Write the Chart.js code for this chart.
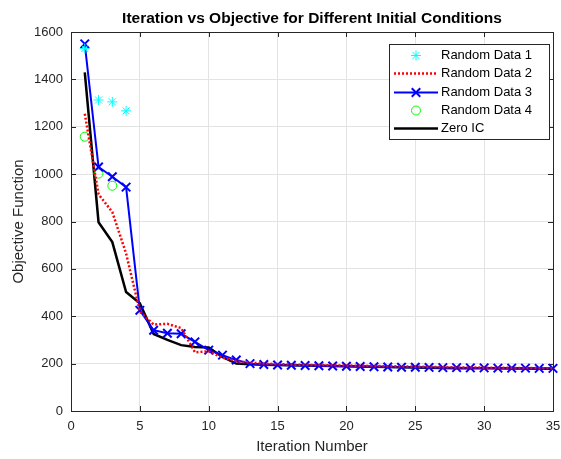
<!DOCTYPE html>
<html>
<head>
<meta charset="utf-8">
<script src="https://cdn.jsdelivr.net/npm/chart.js@4.4.0/dist/chart.umd.min.js"></script>
<style>
  html, body { margin: 0; padding: 0; background: #fff; }
  canvas { display: block; }
</style>
</head>
<body>
<canvas id="chart" width="561" height="459"></canvas>
<script>
const iterations = Array.from({ length: 35 }, (_, i) => i + 1);

const random1 = [1530, 1313, 1305, 1267];
const random2 = [1255, 915, 840, 665, 420, 365, 368, 350, 248, 252, 225, 210,
  204, 200, 198, 196, 195, 194, 193, 192, 191, 190, 189, 188, 187, 186, 185,
  184, 184, 183, 183, 182, 182, 181, 181];
const random3 = [1550, 1030, 989, 945, 425, 341, 328, 326, 292, 257, 236, 215,
  200, 196, 194, 193, 192, 191, 190, 189, 188, 187, 186, 185, 185, 184, 183,
  183, 182, 182, 181, 181, 181, 180, 180];
const random4 = [1158, 1002, 951];
const zeroIC = [1430, 797, 713, 502, 455, 325, 300, 278, 270, 268, 228, 200,
  197, 195, 194, 193, 192, 191, 190, 189, 188, 187, 186, 185, 184, 183, 182,
  181, 181, 180, 180, 179, 179, 178, 178];

const xTicks = [0, 5, 10, 15, 20, 25, 30, 35];
const yTicks = [0, 200, 400, 600, 800, 1000, 1200, 1400, 1600];

const FONT = '"Liberation Sans", Arial, Helvetica, sans-serif';
const AXIS_COLOR = '#262626';

function pts(values) {
  return values.map((v, i) => ({ x: iterations[i], y: v }));
}

function drawMarker(ctx, style, x, y, r) {
  if (style === 'circle') {
    ctx.moveTo(x + r, y);
    ctx.arc(x, y, r, 0, Math.PI * 2);
  } else if (style === 'crossRot') {
    const d = r * Math.SQRT1_2;
    ctx.moveTo(x - d, y - d); ctx.lineTo(x + d, y + d);
    ctx.moveTo(x - d, y + d); ctx.lineTo(x + d, y - d);
  } else if (style === 'star') {
    const d = r * Math.SQRT1_2;
    ctx.moveTo(x - r, y); ctx.lineTo(x + r, y);
    ctx.moveTo(x, y - r); ctx.lineTo(x, y + r);
    ctx.moveTo(x - d, y - d); ctx.lineTo(x + d, y + d);
    ctx.moveTo(x - d, y + d); ctx.lineTo(x + d, y - d);
  }
}

// box, inner ticks, title, axis labels, legend (MATLAB look)
const matlabFrame = {
  id: 'matlabFrame',
  beforeDatasetsDraw(chart) {
    const { ctx, chartArea: a, scales } = chart;
    ctx.save();
    ctx.strokeStyle = AXIS_COLOR;
    ctx.lineWidth = 1;
    ctx.beginPath();
    xTicks.forEach(t => {
      const x = Math.round(scales.x.getPixelForValue(t)) + 0.5;
      ctx.moveTo(x, a.bottom); ctx.lineTo(x, a.bottom - 5);
      ctx.moveTo(x, a.top); ctx.lineTo(x, a.top + 5);
    });
    yTicks.forEach(t => {
      const y = Math.round(scales.y.getPixelForValue(t)) + 0.5;
      ctx.moveTo(a.left, y); ctx.lineTo(a.left + 5, y);
      ctx.moveTo(a.right, y); ctx.lineTo(a.right - 5, y);
    });
    ctx.stroke();
    ctx.strokeRect(Math.round(a.left) + 0.5, Math.round(a.top) + 0.5,
      Math.round(a.right - a.left), Math.round(a.bottom - a.top));
    ctx.restore();
  },
  afterDatasetsDraw(chart) {
    const { ctx, chartArea: a } = chart;
    const cx = (a.left + a.right) / 2;
    ctx.save();
    ctx.fillStyle = '#000';
    ctx.textAlign = 'center';
    ctx.textBaseline = 'middle';
    ctx.font = 'bold 15.5px ' + FONT;
    ctx.fillText('Iteration vs Objective for Different Initial Conditions', cx, 19);

    ctx.fillStyle = AXIS_COLOR;
    ctx.font = '15px ' + FONT;
    ctx.fillText('Iteration Number', cx, 447);
    ctx.translate(19, (a.top + a.bottom) / 2);
    ctx.rotate(-Math.PI / 2);
    ctx.fillText('Objective Function', 0, 0);
    ctx.restore();

    // legend
    const box = { l: 389, t: 44, r: 549, b: 139 };
    ctx.save();
    ctx.fillStyle = '#fff';
    ctx.fillRect(box.l, box.t, box.r - box.l, box.b - box.t);
    ctx.strokeStyle = AXIS_COLOR;
    ctx.lineWidth = 1;
    ctx.strokeRect(box.l + 0.5, box.t + 0.5, box.r - box.l, box.b - box.t);
    ctx.font = '13px ' + FONT;
    ctx.textAlign = 'left';
    ctx.textBaseline = 'middle';
    chart.data.datasets.forEach((ds, i) => {
      const y = Math.round(55 + i * 18.3) + 0.5;
      const x0 = 394, x1 = 438, xm = 416;
      if (ds.showLine !== false) {
        ctx.save();
        ctx.strokeStyle = ds.borderColor;
        ctx.lineWidth = ds.borderWidth;
        ctx.setLineDash(ds.borderDash || []);
        ctx.beginPath();
        ctx.moveTo(x0, y); ctx.lineTo(x1, y);
        ctx.stroke();
        ctx.restore();
      }
      if (ds.pointRadius > 0) {
        ctx.save();
        ctx.strokeStyle = ds.pointBorderColor;
        ctx.lineWidth = ds.pointBorderWidth;
        ctx.setLineDash([]);
        ctx.beginPath();
        drawMarker(ctx, ds.pointStyle, xm, y, ds.pointRadius);
        ctx.stroke();
        ctx.restore();
      }
      ctx.fillStyle = '#000';
      ctx.fillText(ds.label, 441, y);
    });
    ctx.restore();
  }
};

new Chart(document.getElementById('chart'), {
  type: 'line',
  data: {
    datasets: [
      {
        label: 'Random Data 1',
        data: pts(random1),
        showLine: false,
        borderColor: '#00ffff',
        backgroundColor: 'transparent',
        pointStyle: 'star',
        pointRadius: 5,
        pointBorderWidth: 1,
        pointBorderColor: '#00ffff',
        pointBackgroundColor: 'transparent'
      },
      {
        label: 'Random Data 2',
        data: pts(random2),
        borderColor: '#ff0000',
        borderWidth: 2.5,
        borderDash: [2, 2],
        pointRadius: 0
      },
      {
        label: 'Random Data 3',
        data: pts(random3),
        borderColor: '#0000ff',
        borderWidth: 2,
        pointStyle: 'crossRot',
        pointRadius: 6,
        pointBorderWidth: 2,
        pointBorderColor: '#0000ff',
        pointBackgroundColor: 'transparent'
      },
      {
        label: 'Random Data 4',
        data: pts(random4),
        showLine: false,
        borderColor: '#00ff00',
        backgroundColor: 'transparent',
        pointStyle: 'circle',
        pointRadius: 4.5,
        pointBorderWidth: 1,
        pointBorderColor: '#00ff00',
        pointBackgroundColor: 'transparent'
      },
      {
        label: 'Zero IC',
        data: pts(zeroIC),
        borderColor: '#000000',
        borderWidth: 2.5,
        pointRadius: 0
      }
    ]
  },
  options: {
    responsive: false,
    animation: false,
    devicePixelRatio: 1,
    clip: false,
    layout: { padding: { top: 32, right: 7, left: 0, bottom: 0 } },
    plugins: {
      legend: { display: false },
      tooltip: { enabled: false },
      title: { display: false }
    },
    scales: {
      x: {
        type: 'linear',
        min: 0,
        max: 35,
        afterFit(scale) {
          scale.height = 48;
          scale.paddingLeft = 0;
          scale.paddingRight = 0;
        },
        afterBuildTicks(scale) { scale.ticks = xTicks.map(v => ({ value: v })); },
        ticks: {
          color: AXIS_COLOR,
          font: { family: FONT, size: 13 },
          padding: 8,
          maxRotation: 0,
          callback: v => String(v)
        },
        grid: { color: '#e3e3e3', drawTicks: false },
        border: { display: false }
      },
      y: {
        min: 0,
        max: 1600,
        afterFit(scale) {
          scale.width = 71;
          scale.paddingTop = 0;
          scale.paddingBottom = 0;
        },
        afterBuildTicks(scale) { scale.ticks = yTicks.map(v => ({ value: v })); },
        ticks: {
          color: AXIS_COLOR,
          font: { family: FONT, size: 13 },
          padding: 8,
          callback: v => String(v)
        },
        grid: { color: '#e3e3e3', drawTicks: false },
        border: { display: false }
      }
    }
  },
  plugins: [matlabFrame]
});
</script>
</body>
</html>
